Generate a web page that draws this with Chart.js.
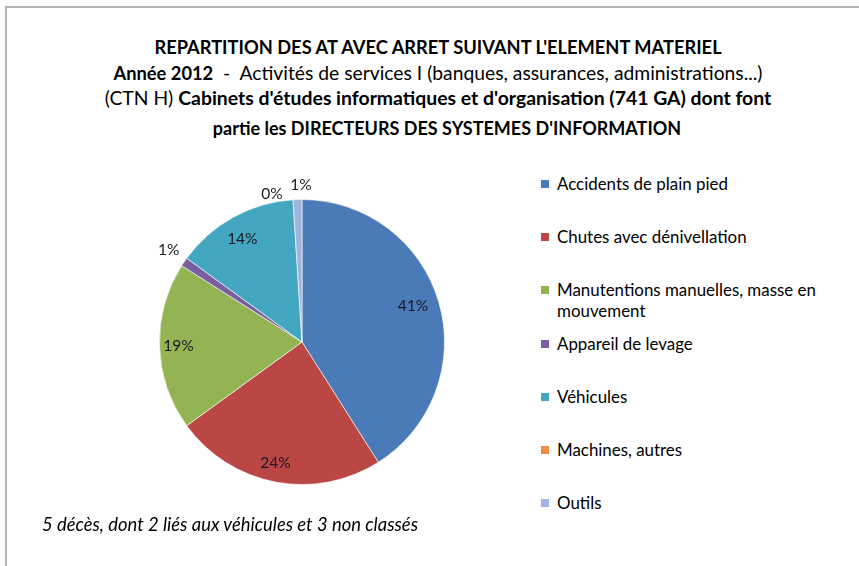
<!DOCTYPE html>
<html lang="fr">
<head>
<meta charset="utf-8">
<title>Répartition des AT avec arrêt</title>
<script src="https://cdn.jsdelivr.net/npm/chart.js@4.4.1/dist/chart.umd.min.js"></script>
<style>
  html, body { margin: 0; padding: 0; background: #fff; }
  body { width: 859px; height: 566px; position: relative; overflow: hidden; font-family: Lato, "Liberation Sans", sans-serif; color: #000; }
  #frame { position: absolute; left: 5px; top: 6px; width: 900px; height: 600px; border: 2px solid #b4b4b4; box-sizing: border-box; }
  .tline { position: absolute; white-space: nowrap; text-align: center; font-size: 19.3px; line-height: 22px; transform: translateX(-50%); }
  .tline b { font-weight: bold; font-size: 18.3px; }
  .tline.l3 b { font-size: 19.4px; }
  .tline.l4 b { font-size: 18px; }
  #chartBox { position: absolute; left: 122px; top: 162px; width: 360px; height: 360px; }
  #legend { position: absolute; left: 540px; top: 0; }
  .item { position: absolute; left: 0; white-space: nowrap; font-size: 16.9px; line-height: 21px; }
  .item i { position: absolute; left: 1px; top: 7px; width: 8px; height: 8px; }
  .item span { display: block; padding-left: 17px; }
  #note { position: absolute; left: 42px; top: 513px; font-size: 18.4px; font-style: italic; white-space: nowrap; }
</style>
</head>
<body>
<div id="frame"></div>
<div id="titleBox"></div>
<div id="chartBox"><canvas id="pieChart" width="360" height="360"></canvas></div>
<div id="legend"></div>
<div id="note"></div>

<script>
// Répartition des accidents par élément matériel (en %)
const categories = [
  "Accidents de plain pied",
  "Chutes avec dénivellation",
  ["Manutentions manuelles, masse en", "mouvement"],
  "Appareil de levage",
  "Véhicules",
  "Machines, autres",
  "Outils"
];
const shares = [41, 24, 19, 1, 14, 0, 1];
const sliceColors = ["#4A7AB8", "#BA4744", "#94B454", "#7B5E9F", "#44A7C1", "#F08C45", "#A1B4DD"];

// lignes du titre : [texte, gras ?]
const titleLines = [
  [["REPARTITION DES AT AVEC ARRET SUIVANT L'ELEMENT MATERIEL", true]],
  [["Année 2012", true], ["  -  Activités de services I (banques, assurances, administrations...)", false]],
  [["(CTN H) ", false], ["Cabinets d'études informatiques et d'organisation (741 GA) dont font", true]],
  [["partie les DIRECTEURS DES SYSTEMES D'INFORMATION", true]]
];
const footNote = "5 décès, dont 2 liés aux véhicules et 3 non classés";

// placement des lignes du titre (centre x, haut y)
const titlePos = [[438, 36], [438, 62], [438, 87], [447, 117]];

const titleBox = document.getElementById("titleBox");
titleLines.forEach((parts, i) => {
  const div = document.createElement("div");
  div.className = "tline l" + (i + 1);
  div.style.left = titlePos[i][0] + "px";
  div.style.top = titlePos[i][1] + "px";
  parts.forEach(([txt, bold]) => {
    const el = document.createElement(bold ? "b" : "span");
    el.textContent = txt;
    el.style.whiteSpace = "pre";
    div.appendChild(el);
  });
  titleBox.appendChild(div);
});
document.getElementById("note").textContent = footNote;

// étiquettes de pourcentage : dans la part si elle est assez grande, sinon à l'extérieur
const pctLabels = {
  id: "pctLabels",
  afterDatasetsDraw(chart, args, opts) {
    const ctx = chart.ctx;
    const meta = chart.getDatasetMeta(0);
    const values = chart.data.datasets[0].data;
    ctx.save();
    ctx.font = opts.font;
    ctx.fillStyle = opts.color;
    ctx.textAlign = "center";
    ctx.textBaseline = "middle";
    meta.data.forEach((arc, i) => {
      const { x, y, startAngle, endAngle, outerRadius } = arc.getProps(["x", "y", "startAngle", "endAngle", "outerRadius"], true);
      const mid = (startAngle + endAngle) / 2;
      const inside = values[i] >= 5;
      const f = inside ? opts.insideRatio : opts.outsideRatio;
      const shift = opts.shift[i] || [0, 0];
      const lx = x + Math.cos(mid) * outerRadius * f + shift[0];
      const ly = y + Math.sin(mid) * outerRadius * f + shift[1];
      ctx.fillText(values[i] + "%", lx, ly);
    });
    ctx.restore();
  }
};

const chart = new Chart(document.getElementById("pieChart"), {
  type: "pie",
  data: {
    labels: categories,
    datasets: [{
      data: shares,
      backgroundColor: sliceColors,
      borderColor: "rgba(255,255,255,0.6)",
      borderWidth: 1
    }]
  },
  options: {
    responsive: false,
    animation: false,
    layout: { padding: 37 },
    plugins: {
      legend: { display: false },
      tooltip: { enabled: false },
      pctLabels: {
        font: "15.5px Lato, 'Liberation Sans', sans-serif",
        color: "#1a1a22",
        insideRatio: 0.84,
        outsideRatio: 1.13,
        shift: { 0: [-4, -3], 1: [-4, 3], 2: [-4, 0], 3: [0, -1], 4: [-2, 2], 5: [-20, 13], 6: [4, 4] }
      }
    }
  },
  plugins: [pctLabels]
});

// légende à droite, construite à partir des éléments fournis par Chart.js
const legendBox = document.getElementById("legend");
const legendTops = [173, 226, 279, 333, 386, 439, 492];
chart.options.plugins.legend.labels.generateLabels(chart).forEach((item, i) => {
  const row = document.createElement("div");
  row.className = "item";
  row.style.top = legendTops[i] + "px";
  const box = document.createElement("i");
  box.style.background = item.fillStyle;
  const txt = document.createElement("span");
  const lines = Array.isArray(item.text) ? item.text : [item.text];
  lines.forEach((l, k) => {
    if (k) txt.appendChild(document.createElement("br"));
    txt.appendChild(document.createTextNode(l));
  });
  row.appendChild(box);
  row.appendChild(txt);
  legendBox.appendChild(row);
});
</script>
</body>
</html>
